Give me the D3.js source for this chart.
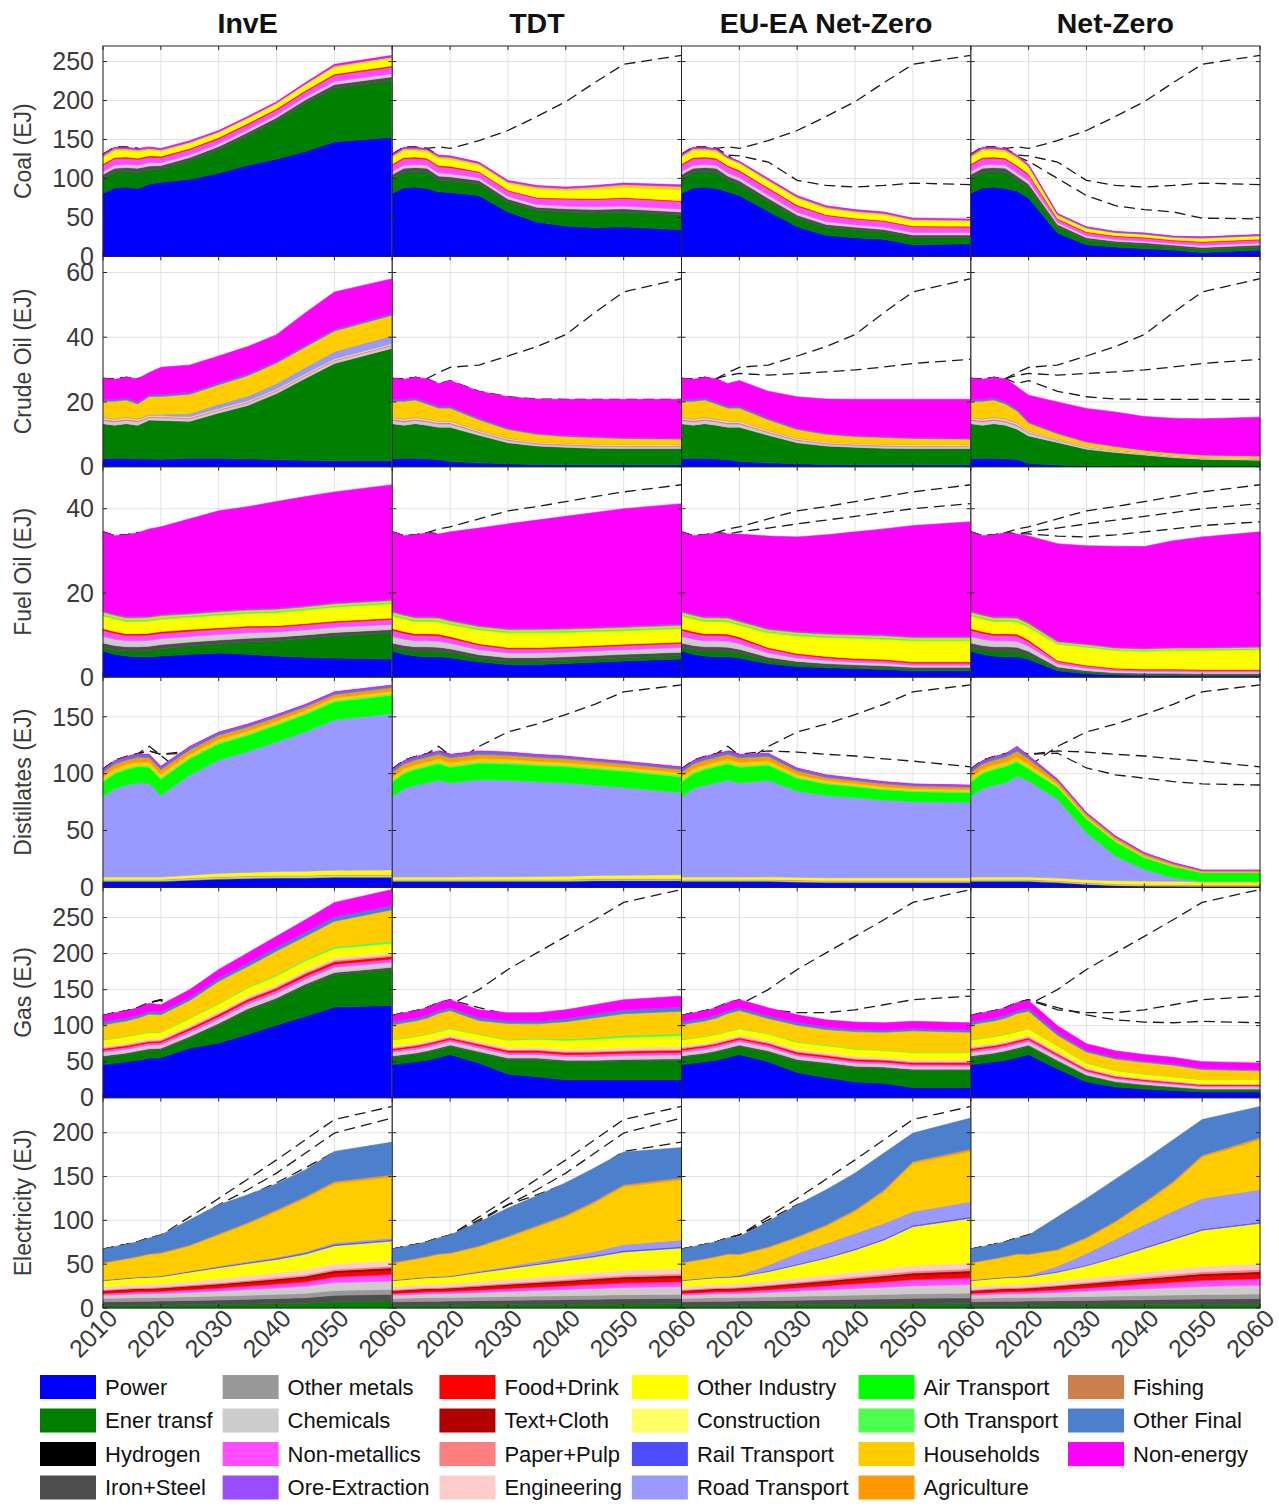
<!DOCTYPE html>
<html>
<head>
<meta charset="utf-8">
<script src="https://cdn.jsdelivr.net/npm/d3@7"></script>
<style>
  body { margin: 0; background: #fff; }
  svg { font-family: "Liberation Sans", Arial, Helvetica, sans-serif; }
</style>
</head>
<body>
<svg id="chart" width="1279" height="1506"></svg>
<script>
// ---- data ----
const years = [2010, 2012, 2014, 2016, 2018, 2020, 2025, 2030, 2035, 2040, 2045, 2050, 2060];
const scenarios = ['InvE', 'TDT', 'EU-EA Net-Zero', 'Net-Zero'];
const xTicks = [2010, 2020, 2030, 2040, 2050, 2060];

const sectors = ['Power', 'Ener transf', 'Hydrogen', 'Iron+Steel', 'Other metals', 'Chemicals',
  'Non-metallics', 'Ore-Extraction', 'Food+Drink', 'Text+Cloth', 'Paper+Pulp', 'Engineering',
  'Other Industry', 'Construction', 'Rail Transport', 'Road Transport', 'Air Transport',
  'Oth Transport', 'Households', 'Agriculture', 'Fishing', 'Other Final', 'Non-energy'];
const sectorColors = ['#0000ff', '#008000', '#000000', '#4d4d4d', '#999999', '#cccccc',
  '#ff4dff', '#994dff', '#ff0000', '#b30000', '#ff8080', '#ffcccc',
  '#ffff00', '#ffff66', '#4d4dff', '#9999ff', '#00ff00',
  '#4dff4d', '#ffcc00', '#ff9900', '#cc804d', '#4d80cc', '#ff00ff'];

// Coal: history 2010-2016 shared, then 2018..2060 per scenario
const coalSectors = ['Power', 'Ener transf', 'Iron+Steel', 'Chemicals', 'Non-metallics', 'Food+Drink', 'Other Industry', 'Households', 'Other Final', 'Non-energy'];
const coalTicks = [0, 50, 100, 150, 200, 250];
const coalHist = [[81, 88, 89, 87], [19, 20, 20, 21], [5, 5, 5, 5], [4, 4, 4, 4], [8, 8.5, 8, 7.5],
  [1.5, 1.5, 1.5, 1.5], [8, 8.5, 8, 8], [2.5, 2.5, 2.5, 2.5], [1, 1, 1, 1], [1, 1, 1, 1]];
const coalInvE = [
  [93, 95, 99, 107, 117, 125, 135, 147, 153],
  [18, 17, 24, 30, 38, 49, 62, 69, 73],
  [5, 4.5, 4, 4, 4, 4, 4, 4.5, 4.5],
  [4, 3.5, 3.5, 3.5, 3.5, 3.5, 3.5, 4, 4],
  [7.5, 7, 6.5, 6.5, 6.5, 6.5, 7, 8, 8.5],
  [1.5, 1.5, 1.5, 1.5, 1.5, 1.5, 1.5, 1.5, 1.5],
  [7.5, 6.5, 6.5, 6, 6, 6, 7, 8.5, 9.5],
  [2, 1.5, 1.5, 1.5, 1.5, 1.5, 1.5, 2, 2],
  [1, 1, 1, 0.5, 0.5, 0.5, 0.5, 0.5, 0.5],
  [1, 1, 1, 1, 1, 1, 1, 1.5, 1.5]];
const coalTDT = [
  [83, 82, 78, 57, 44, 39, 37, 38, 34],
  [15, 15, 15, 12.5, 15, 18, 19, 19, 19],
  [5, 5, 4.5, 4, 4, 4, 4, 4, 4],
  [4, 4, 3.5, 3.5, 3.5, 3.5, 3.5, 3.5, 3.5],
  [8, 8, 7, 7, 8, 9, 9.5, 10, 10],
  [1.5, 1.5, 1, 1, 1, 1, 1, 1, 1],
  [9, 9, 8, 8.5, 11, 10, 12, 13, 14],
  [2.5, 2.5, 2, 2, 2.5, 2.5, 3, 3.5, 4],
  [1, 1, 1, 1, 1, 1, 1, 1, 1],
  [1, 1, 1, 1, 1, 1, 1, 1, 1.5]];
const coalEU = [
  [83, 78, 58, 38, 27, 24, 22, 15, 16],
  [15, 14, 12, 11, 10, 10, 9, 9, 8],
  [5, 5, 4.5, 4, 4, 3.5, 3.5, 3.5, 3.5],
  [4, 4, 4, 3.5, 3.5, 3, 3, 3, 3],
  [8, 8, 8, 8, 8, 7.5, 7.5, 7.5, 7],
  [1.5, 1.5, 1.5, 1.5, 1, 1, 1, 1, 1],
  [8, 8, 8, 8, 7.5, 7, 7, 6.5, 6.5],
  [2, 2, 2, 2, 2, 2, 2, 2, 1.5],
  [1, 1, 1, 1, 1, 1, 1, 0.5, 0.5],
  [0.5, 0.5, 1, 1, 1, 1, 1, 1, 1]];
const coalNZ = [
  [84, 75, 30, 15, 12, 10, 8, 5, 8],
  [14, 13, 8, 6, 5, 5, 4, 4, 4],
  [5, 5, 3, 3, 2.5, 2.5, 2.5, 2.5, 2.5],
  [4, 4, 2.5, 2.5, 2, 2, 2, 2.5, 2.5],
  [8, 7.5, 4, 4, 4, 4, 3.5, 4, 4],
  [1.5, 1.5, 1, 1, 1, 1, 1, 1, 1],
  [9, 8, 4, 4, 3.5, 3.5, 3, 4, 4],
  [2.5, 2, 1, 1, 0.5, 0.5, 0.5, 0.5, 0.5],
  [1, 1, 1, 1, 1, 1, 1, 1, 1],
  [1, 1, 0.5, 0.5, 0.5, 0.5, 0.5, 0.5, 0.5]];

// Crude oil
const crudeSectors = ['Power', 'Ener transf', 'Chemicals', 'Non-metallics', 'Other Industry', 'Road Transport', 'Households', 'Other Final', 'Non-energy'];
const crudeTicks = [0, 20, 40, 60];
const crudeHist = [[2.4, 2.6, 2.6, 2.4], [10.9, 10.2, 10.7, 10.4], [1, 1, 1, 1], [0.4, 0.4, 0.4, 0.4],
  [0.4, 0.4, 0.4, 0.4], [0.3, 0.3, 0.3, 0.3], [4.8, 5.3, 5.2, 4.5], [0.6, 0.6, 0.6, 0.6], [6.5, 6.2, 6.4, 7.2]];
const crudeInvE = [
  [2.4, 2.3, 2.6, 2.6, 2.4, 2.2, 2, 1.8, 1.8],
  [12, 12, 11.4, 14, 16.5, 20.4, 25.3, 30.1, 34.8],
  [0.8, 0.8, 0.8, 0.8, 0.8, 0.8, 0.8, 0.8, 0.8],
  [0.3, 0.3, 0.3, 0.3, 0.3, 0.3, 0.3, 0.3, 0.3],
  [0.3, 0.3, 0.3, 0.3, 0.3, 0.3, 0.3, 0.3, 0.3],
  [0.4, 0.5, 1, 1.3, 1.5, 1.7, 2, 2.3, 2.5],
  [5.5, 5.5, 6, 6, 6.3, 6.3, 6.3, 6.3, 6.3],
  [0.6, 0.6, 0.6, 0.6, 0.6, 0.6, 0.6, 0.6, 0.6],
  [6.8, 8.4, 8.4, 8.3, 8.4, 8.2, 10, 11.5, 10.7]];
const crudeTDT = [
  [2.2, 1.6, 1.2, 0.9, 0.7, 0.6, 0.6, 0.6, 0.6],
  [10, 10.6, 8.5, 6.5, 5.7, 5.4, 5.1, 5, 5],
  [1, 1, 0.8, 0.7, 0.6, 0.6, 0.6, 0.6, 0.6],
  [0.4, 0.4, 0.3, 0.3, 0.3, 0.3, 0.3, 0.3, 0.3],
  [0.4, 0.4, 0.3, 0.3, 0.3, 0.3, 0.3, 0.3, 0.3],
  [0.3, 0.3, 0.2, 0.2, 0.1, 0.1, 0.1, 0.1, 0.1],
  [3.8, 3.8, 3.2, 2.6, 2.3, 2, 2, 1.8, 1.6],
  [0.6, 0.6, 0.5, 0.4, 0.3, 0.3, 0.3, 0.3, 0.3],
  [7, 7.9, 8.3, 9.7, 10.6, 11.2, 11.5, 11.8, 12]];
const crudeEU = [
  [2.2, 1.6, 1.2, 0.9, 0.7, 0.6, 0.6, 0.6, 0.6],
  [10, 10.6, 8.5, 6.5, 5.7, 5.4, 5.1, 5, 5],
  [1, 1, 0.8, 0.7, 0.6, 0.6, 0.6, 0.6, 0.6],
  [0.4, 0.4, 0.3, 0.3, 0.3, 0.3, 0.3, 0.3, 0.3],
  [0.4, 0.4, 0.3, 0.3, 0.3, 0.3, 0.3, 0.3, 0.3],
  [0.3, 0.3, 0.2, 0.2, 0.1, 0.1, 0.1, 0.1, 0.1],
  [3.8, 3.8, 3.2, 2.6, 2.3, 2, 2, 1.8, 1.6],
  [0.6, 0.6, 0.5, 0.4, 0.3, 0.3, 0.3, 0.3, 0.3],
  [7, 7.9, 8.3, 9.7, 10.6, 11.2, 11.5, 11.8, 12]];
const crudeNZ = [
  [2.3, 1, 0.5, 0.3, 0.2, 0.2, 0.2, 0.2, 0.2],
  [9.3, 8.5, 7, 5.1, 4.2, 3.4, 2.6, 2.1, 1.8],
  [1, 0.9, 0.6, 0.5, 0.4, 0.3, 0.3, 0.3, 0.3],
  [0.4, 0.3, 0.2, 0.2, 0.1, 0.1, 0.1, 0.1, 0.1],
  [0.4, 0.3, 0.2, 0.2, 0.2, 0.2, 0.2, 0.2, 0.2],
  [0.3, 0.2, 0.1, 0.1, 0.1, 0.1, 0.1, 0.1, 0.1],
  [3.5, 2.3, 1.6, 1.2, 1, 0.8, 0.7, 0.6, 0.6],
  [0.6, 0.4, 0.3, 0.2, 0.2, 0.1, 0.1, 0.1, 0.1],
  [6.9, 8.2, 9.5, 10.2, 10.5, 10.3, 10.7, 11.1, 11.9]];
// TDT crude total as drawn in the other panels (differs from its stack)
const crudeTDTLine = [27.3, 27, 27.6, 27.2, 28.2, 28.8, 28.3, 28.8, 29.3, 29.9, 30.8, 31.9, 33.2];

// Fuel oil
const fuelSectors = ['Power', 'Ener transf', 'Iron+Steel', 'Chemicals', 'Non-metallics', 'Food+Drink', 'Other Industry', 'Oth Transport', 'Households', 'Other Final', 'Non-energy'];
const fuelTicks = [0, 20, 40];
const fuelHist = [[6.2, 5.4, 5, 4.8], [0.9, 1.1, 1.2, 1.4], [1, 1, 1, 1], [1.5, 1.5, 1.4, 1.4], [1.5, 1.4, 1.3, 1.3],
  [0.4, 0.4, 0.4, 0.4], [3, 3, 2.9, 2.9], [0.4, 0.4, 0.4, 0.4], [0.5, 0.5, 0.5, 0.5], [0.3, 0.3, 0.3, 0.3],
  [18.8, 18.6, 19.4, 19.9]];
const fuelInvE = [
  [4.8, 5, 5.4, 5.7, 5.4, 5, 4.7, 4.5, 4.3],
  [1.5, 1.7, 2, 2.2, 2.9, 3.6, 4.5, 5.3, 6.2],
  [1, 1, 0.9, 0.9, 0.9, 0.9, 0.8, 0.8, 0.8],
  [1.4, 1.4, 1.3, 1.3, 1.3, 1.2, 1.2, 1.2, 1.2],
  [1.3, 1.3, 1.3, 1.3, 1.3, 1.2, 1.2, 1.2, 1.2],
  [0.4, 0.4, 0.4, 0.3, 0.3, 0.3, 0.3, 0.3, 0.3],
  [2.9, 2.9, 2.9, 3, 3, 3.1, 3.2, 3.3, 3.4],
  [0.4, 0.4, 0.4, 0.4, 0.4, 0.4, 0.4, 0.4, 0.4],
  [0.5, 0.5, 0.4, 0.4, 0.4, 0.4, 0.4, 0.4, 0.4],
  [0.3, 0.3, 0.3, 0.3, 0.3, 0.3, 0.3, 0.3, 0.3],
  [20.7, 20.8, 22.3, 23.7, 24.3, 25.3, 25.9, 26.3, 27.2]];
const fuelTDT = [
  [4.8, 4.6, 3.6, 3, 3, 3.2, 3.5, 3.8, 4.3],
  [1.3, 1.2, 0.9, 0.8, 0.8, 0.8, 0.8, 0.8, 0.8],
  [1, 0.9, 0.8, 0.8, 0.8, 0.8, 0.8, 0.8, 0.8],
  [1.4, 1.3, 1.2, 1.1, 1.1, 1.1, 1.1, 1.1, 1.1],
  [1.3, 1.2, 1.1, 1, 1, 1, 1, 1, 1],
  [0.4, 0.4, 0.3, 0.3, 0.3, 0.3, 0.3, 0.3, 0.3],
  [2.9, 2.8, 3.3, 3.5, 3.5, 3.4, 3.3, 3.2, 3.2],
  [0.4, 0.4, 0.4, 0.4, 0.4, 0.4, 0.4, 0.4, 0.4],
  [0.5, 0.5, 0.4, 0.4, 0.4, 0.4, 0.4, 0.4, 0.4],
  [0.3, 0.3, 0.3, 0.3, 0.3, 0.3, 0.3, 0.3, 0.3],
  [19.7, 20.9, 23.1, 24.8, 25.7, 26.5, 27.2, 27.9, 28.6]];
const fuelEU = [
  [4.8, 4.5, 3.2, 2.5, 2.2, 2, 1.8, 1.5, 1.5],
  [1.3, 1.2, 0.8, 0.6, 0.5, 0.4, 0.4, 0.4, 0.4],
  [1, 0.9, 0.7, 0.6, 0.5, 0.5, 0.5, 0.4, 0.4],
  [1.4, 1.3, 1, 0.8, 0.7, 0.6, 0.6, 0.5, 0.5],
  [1.3, 1.2, 1, 0.8, 0.7, 0.6, 0.6, 0.5, 0.5],
  [0.4, 0.4, 0.3, 0.3, 0.3, 0.3, 0.3, 0.3, 0.3],
  [2.9, 2.8, 3.5, 4.2, 4.5, 4.8, 4.8, 5, 5],
  [0.4, 0.4, 0.4, 0.4, 0.4, 0.4, 0.4, 0.4, 0.4],
  [0.5, 0.5, 0.4, 0.4, 0.4, 0.4, 0.4, 0.4, 0.4],
  [0.3, 0.3, 0.3, 0.3, 0.3, 0.3, 0.3, 0.3, 0.3],
  [19.7, 20.5, 21.9, 22.4, 23.3, 24.2, 25.1, 26.3, 27.2]];
const fuelNZ = [
  [4.8, 4.2, 1.5, 0.8, 0.5, 0.4, 0.4, 0.3, 0.3],
  [1.3, 1, 0.4, 0.3, 0.2, 0.2, 0.2, 0.2, 0.2],
  [1, 0.9, 0.5, 0.4, 0.3, 0.3, 0.3, 0.3, 0.3],
  [1.4, 1.2, 0.7, 0.6, 0.5, 0.4, 0.4, 0.4, 0.4],
  [1.3, 1.1, 0.6, 0.5, 0.4, 0.4, 0.4, 0.4, 0.4],
  [0.4, 0.4, 0.2, 0.2, 0.2, 0.2, 0.2, 0.2, 0.2],
  [2.9, 3, 3.9, 4.3, 4.2, 4.2, 4.4, 4.5, 4.7],
  [0.4, 0.4, 0.3, 0.3, 0.3, 0.3, 0.3, 0.3, 0.3],
  [0.5, 0.5, 0.3, 0.3, 0.3, 0.3, 0.3, 0.3, 0.3],
  [0.3, 0.3, 0.2, 0.2, 0.2, 0.2, 0.2, 0.2, 0.2],
  [19.7, 20.5, 23.1, 23.3, 24, 24.1, 25.3, 26.2, 27.2]];

// Distillates
const distSectors = ['Power', 'Ener transf', 'Chemicals', 'Non-metallics', 'Other Industry', 'Road Transport', 'Air Transport', 'Oth Transport', 'Households', 'Agriculture', 'Other Final', 'Non-energy'];
const distTicks = [0, 50, 100, 150];
const distHist = [[5, 5, 5, 5], [0.5, 0.5, 0.5, 0.5], [1, 1, 1, 1], [0.5, 0.5, 0.5, 0.5], [2, 2, 2, 2],
  [71, 78, 81, 83], [12.5, 13, 13.5, 14], [1.5, 1.5, 1.5, 1.5], [3, 3, 3, 3], [4, 4, 4, 4],
  [2.5, 2.5, 2.5, 2.5], [0.5, 0.5, 0.5, 0.5]];
const distInvE = [
  [5, 5, 6, 7, 7.5, 8, 8, 8.5, 8.5],
  [0.5, 0.5, 0.5, 0.5, 0.5, 0.5, 0.5, 0.5, 0.5],
  [1, 1, 1.2, 1.3, 1.4, 1.5, 1.5, 1.6, 1.6],
  [0.5, 0.5, 0.5, 0.5, 0.5, 0.5, 0.5, 0.5, 0.5],
  [2, 2, 2.5, 3, 3.2, 3.5, 3.7, 4, 4.2],
  [82.5, 72.1, 88.3, 99.8, 106.5, 114, 122.8, 132.4, 137.7],
  [14, 14, 14, 14, 14, 14.5, 15, 15.5, 16],
  [1.5, 1.5, 1.5, 1.5, 1.5, 1.5, 1.5, 1.5, 1.5],
  [3, 3, 2.8, 2.6, 2.5, 2.4, 2.3, 2.2, 2.2],
  [4, 4, 3.8, 3.6, 3.4, 3.2, 3, 3, 3],
  [2.5, 2.5, 2.4, 2.3, 2.1, 1.9, 1.7, 1.8, 1.8],
  [0.5, 0.5, 0.5, 0.5, 0.5, 0.5, 0.5, 0.5, 0.5]];
const distTDT = [
  [5, 5, 5, 5, 5, 5, 5.5, 5.5, 5.5],
  [0.5, 0.5, 0.5, 0.5, 0.5, 0.5, 0.5, 0.5, 0.5],
  [1, 1, 1, 1, 1, 1, 1, 1, 1],
  [0.5, 0.5, 0.5, 0.5, 0.5, 0.5, 0.5, 0.5, 0.5],
  [2, 2, 2.2, 2.4, 2.6, 2.8, 3, 3.2, 3.5],
  [85.5, 83, 85.8, 85.1, 83.4, 82.2, 79.5, 77.3, 72.5],
  [14, 13.5, 14, 14, 14, 14, 14, 14, 13.5],
  [1.5, 1.5, 1.5, 1.5, 1.5, 1.5, 1.5, 1.5, 1.5],
  [3, 3, 2.8, 2.6, 2.5, 2.4, 2.3, 2.2, 2.2],
  [4, 4, 3.8, 3.6, 3.4, 3.2, 3, 3, 3],
  [2.5, 2.5, 2.4, 2.3, 2.1, 1.9, 1.7, 1.8, 1.8],
  [0.5, 0.5, 0.5, 0.5, 0.5, 0.5, 0.5, 0.5, 0.5]];
const distEU = [
  [5, 5, 5, 4.5, 4, 4, 4, 4, 4],
  [0.5, 0.5, 0.5, 0.5, 0.5, 0.5, 0.5, 0.5, 0.5],
  [1, 1, 1, 1, 1, 1, 1, 1, 1],
  [0.5, 0.5, 0.5, 0.5, 0.5, 0.5, 0.5, 0.5, 0.5],
  [2, 2, 2.2, 2.3, 2.4, 2.5, 2.5, 2.5, 2.5],
  [85.5, 83, 85.2, 76, 72.5, 70.5, 68.3, 67.1, 66.3],
  [14, 13.5, 13, 11, 10, 9.5, 9, 8.5, 8.5],
  [1.5, 1.5, 1.4, 1.2, 1, 1, 1, 1, 1],
  [3, 3, 2.7, 2.3, 2, 1.8, 1.7, 1.6, 1.5],
  [4, 4, 3.7, 3.2, 2.8, 2.6, 2.5, 2.4, 2.3],
  [2.5, 2.5, 2.3, 2, 1.8, 1.6, 1.5, 1.4, 1.4],
  [0.5, 0.5, 0.5, 0.5, 0.5, 0.5, 0.5, 0.5, 0.5]];
const distNZ = [
  [5, 5, 4, 2.5, 1.5, 1, 0.8, 0.6, 0.6],
  [0.5, 0.5, 0.4, 0.3, 0.2, 0.2, 0.2, 0.2, 0.2],
  [1, 1, 1, 0.9, 0.8, 0.8, 0.8, 0.8, 0.8],
  [0.5, 0.5, 0.5, 0.5, 0.5, 0.5, 0.5, 0.5, 0.5],
  [2, 2, 2.2, 2.5, 2.8, 3, 3, 3, 3],
  [89, 84.8, 69.5, 41.5, 21.8, 10.4, 3.2, 0.3, 0.3],
  [12, 10.2, 10.4, 11.8, 12.4, 10.1, 9.7, 7.5, 7.5],
  [1.5, 1.5, 1, 0.8, 0.7, 0.6, 0.5, 0.3, 0.3],
  [3.5, 3, 1.8, 1.4, 1.3, 1.1, 0.8, 0.5, 0.5],
  [5, 4.5, 2.5, 2.1, 1.9, 1.7, 1.3, 0.8, 0.8],
  [3.5, 2.5, 1.5, 1.2, 1, 0.8, 0.6, 0.4, 0.4],
  [0.5, 0.5, 0.5, 0.4, 0.4, 0.4, 0.4, 0.4, 0.4]];

// Gas
const gasSectors = ['Power', 'Ener transf', 'Iron+Steel', 'Chemicals', 'Non-metallics', 'Food+Drink', 'Paper+Pulp', 'Engineering', 'Other Industry', 'Oth Transport', 'Households', 'Other Final', 'Non-energy'];
const gasTicks = [0, 50, 100, 150, 200, 250];
const gasHist = [[46, 48, 50, 52], [10, 10, 10, 11], [2, 2, 2, 2], [5, 5, 5, 5], [3, 3, 3, 3], [2, 2, 2, 2],
  [1.5, 1.5, 1.5, 1.5], [2.5, 2.5, 2.5, 2.5], [8, 8, 8.5, 8.5], [1, 1, 1, 1], [20, 21, 21, 22],
  [4, 4, 4, 4], [9, 10, 10, 10.5]];
const gasInvE = [
  [55, 55.6, 69, 76, 88, 101, 113, 126, 128],
  [11, 11, 14, 25, 33, 35, 42, 45, 50],
  [2, 2, 2, 2.2, 2.4, 2.5, 2.7, 2.9, 3],
  [5, 5, 5.5, 5.8, 6.2, 6.5, 6.8, 7, 7],
  [3, 3, 3.5, 3.7, 3.9, 4, 4.2, 4.4, 4.5],
  [2, 2, 2.5, 2.7, 2.8, 3, 3.2, 3.4, 3.5],
  [1.5, 1.5, 1.5, 1.6, 1.8, 2, 2, 2, 2],
  [2.5, 2.5, 3, 3, 3, 3, 3.2, 3.4, 3.5],
  [8.5, 8, 9, 10, 11, 12, 13, 13, 13],
  [1, 1, 1, 1.2, 1.5, 1.8, 2, 2.5, 2.5],
  [24.5, 23.4, 24, 30.3, 28.4, 32.7, 31.9, 35.4, 44],
  [4, 4, 4, 4.5, 5, 5.5, 6, 6, 6],
  [11, 10, 11, 12, 14, 15, 17, 20, 22]];
const gasTDT = [
  [56, 60, 48, 33, 29, 25, 25, 25, 25],
  [11, 11, 14, 20, 24, 25, 25, 26, 27],
  [2, 2, 2, 2, 2, 2, 2, 2, 2],
  [5, 5, 5, 5, 5, 5, 5.2, 5.4, 5.5],
  [3, 3, 3, 3, 3, 3, 3.2, 3.3, 3.4],
  [2, 2, 2.2, 2.4, 2.5, 2.6, 2.7, 2.8, 2.9],
  [1.5, 1.5, 1.5, 1.5, 1.5, 1.5, 1.5, 1.5, 1.5],
  [2.5, 2.5, 2.6, 2.8, 3, 3.2, 3.4, 3.6, 3.8],
  [8.5, 8.5, 9, 10, 11, 12, 13, 14, 15],
  [1, 1, 1, 1, 1.5, 2, 2.5, 3, 3],
  [24.5, 24.5, 18.7, 22.3, 20, 24.2, 27.5, 29.9, 30.9],
  [4, 4, 4, 4, 4, 4.5, 5, 5.5, 6],
  [11, 11, 11, 11, 11.5, 12, 13, 14, 15]];
const gasEU = [
  [56, 60, 50, 35, 28, 22, 20, 14, 14],
  [11, 11, 13, 16, 19, 20, 21, 24, 24],
  [2, 2, 2, 2, 1.8, 1.7, 1.6, 1.5, 1.5],
  [5, 5, 5, 4.8, 4.6, 4.5, 4.4, 4.3, 4.2],
  [3, 3, 3, 2.9, 2.8, 2.7, 2.6, 2.5, 2.5],
  [2, 2, 2.2, 2.3, 2.3, 2.3, 2.3, 2.3, 2.3],
  [1.5, 1.5, 1.5, 1.5, 1.4, 1.4, 1.4, 1.4, 1.4],
  [2.5, 2.5, 2.6, 2.7, 2.8, 2.8, 2.8, 2.8, 2.8],
  [8.5, 8.5, 9, 9.5, 9.5, 9.5, 9.5, 9.5, 9.5],
  [1, 1, 1, 1, 1, 1, 1, 1, 1],
  [24.5, 24.5, 20.7, 23, 21.3, 23.8, 24.2, 29.5, 27.6],
  [4, 4, 4, 3.8, 3.5, 3.3, 3.2, 3.2, 3.2],
  [11, 11, 11, 10.5, 10, 10, 10, 10, 10]];
const gasNZ = [
  [56, 60, 40, 22, 15, 12, 10, 8, 8],
  [11, 11, 10, 8, 6, 5, 4, 3, 3],
  [2, 2, 1.8, 1.5, 1.3, 1.2, 1.1, 1, 1],
  [5, 5, 4.5, 4, 3.7, 3.5, 3.3, 3.1, 3],
  [3, 3, 2.6, 2.2, 2, 1.9, 1.8, 1.7, 1.7],
  [2, 2, 1.8, 1.5, 1.4, 1.3, 1.2, 1.1, 1.1],
  [1.5, 1.5, 1.3, 1.1, 1, 1, 0.9, 0.9, 0.9],
  [2.5, 2.5, 2.2, 1.8, 1.6, 1.5, 1.4, 1.3, 1.3],
  [8.5, 8.5, 7.5, 6, 5.5, 5.2, 5, 4.8, 4.8],
  [1, 1, 0.8, 0.6, 0.5, 0.5, 0.5, 0.5, 0.5],
  [24.5, 23.5, 14, 14.8, 15.8, 15.9, 15.9, 13.8, 11.9],
  [4, 4, 3.5, 2.5, 2.2, 2, 1.9, 1.8, 1.8],
  [11, 11, 10, 9, 9, 9, 9, 9, 9]];

// Electricity
const elecSectors = ['Ener transf', 'Iron+Steel', 'Other metals', 'Chemicals', 'Non-metallics', 'Food+Drink', 'Text+Cloth', 'Paper+Pulp', 'Engineering', 'Other Industry', 'Rail Transport', 'Road Transport', 'Households', 'Agriculture', 'Other Final'];
const elecTicks = [0, 50, 100, 150, 200];
const elecHist = [[2.7, 2.8, 2.9, 3], [4.4, 4.5, 4.6, 4.7], [3.8, 3.9, 4, 4.1], [3.8, 4, 4.2, 4.4],
  [1.9, 2, 2.1, 2.2], [1.8, 1.9, 2, 2.1], [1.5, 1.5, 1.6, 1.6], [1.2, 1.2, 1.2, 1.2], [3.3, 3.5, 3.6, 3.7],
  [6.7, 7, 7.3, 7.5], [0.8, 0.8, 0.8, 0.8], [0.2, 0.2, 0.3, 0.3], [18.9, 20, 21, 22.5], [1, 1, 1, 1],
  [15.2, 15.7, 16, 16.5]];
const elecInvE = [
  [3, 3.2, 3.6, 4, 4.5, 5, 5.5, 7.5, 8],
  [4.8, 4.8, 5, 5.2, 5.5, 5.8, 6.2, 7, 7.6],
  [4.1, 4.1, 4.2, 4.4, 4.6, 4.8, 5, 5.5, 5.7],
  [4.5, 4.6, 5.2, 5.8, 6.5, 7.2, 8, 9, 9.5],
  [2.2, 2.3, 2.8, 3.3, 3.9, 4.5, 5.2, 6.5, 7.6],
  [2.1, 2.2, 2.5, 2.8, 3.1, 3.4, 3.8, 4.2, 4.5],
  [1.6, 1.6, 1.8, 2, 2.2, 2.4, 2.6, 2.8, 3],
  [1.2, 1.2, 1.3, 1.4, 1.5, 1.6, 1.7, 1.8, 1.9],
  [3.8, 3.9, 4.2, 4.6, 5, 5.5, 6, 6.3, 6.5],
  [7.7, 7.8, 10.3, 12.5, 14, 15.2, 17.5, 20.5, 22.2],
  [0.9, 0.9, 1, 1.1, 1.2, 1.3, 1.4, 1.5, 1.5],
  [0.3, 0.3, 0.5, 0.7, 1, 1.2, 1.5, 1.8, 2],
  [24.8, 25.3, 28.4, 35.4, 42.9, 52.3, 60.8, 67.8, 69.6],
  [1, 1, 1.2, 1.4, 1.6, 1.8, 2, 2.2, 2.4],
  [18, 20.2, 28.6, 33.3, 31.6, 29.7, 30.5, 34.3, 37.3]];
const elecTDT = [
  [3, 3.2, 3.4, 3.6, 3.8, 4, 4.2, 4.5, 4.8],
  [4.8, 4.8, 5, 5.2, 5.4, 5.6, 5.8, 6, 6.2],
  [4.1, 4.1, 4.2, 4.3, 4.4, 4.5, 4.6, 4.7, 4.8],
  [4.5, 4.6, 5.2, 5.8, 6.4, 7, 7.6, 8.2, 8.6],
  [2.2, 2.3, 2.8, 3.3, 3.8, 4.3, 4.8, 5.3, 5.6],
  [2.1, 2.2, 2.5, 2.8, 3.1, 3.4, 3.7, 4, 4.2],
  [1.6, 1.6, 1.8, 2, 2.2, 2.4, 2.6, 2.8, 3],
  [1.2, 1.2, 1.3, 1.4, 1.5, 1.6, 1.7, 1.8, 1.9],
  [3.8, 3.9, 4.2, 4.5, 4.8, 5.1, 5.4, 5.7, 6],
  [7.7, 7.8, 10, 12, 14, 16, 18, 21, 23.5],
  [0.9, 0.9, 1, 1.1, 1.2, 1.3, 1.4, 1.5, 1.5],
  [0.3, 0.3, 0.8, 1.5, 2.5, 3.5, 5, 7, 7.6],
  [24.8, 25.1, 27.6, 33.1, 39.3, 45.5, 55.2, 65.9, 68.5],
  [1, 1, 1.2, 1.4, 1.6, 1.8, 2, 2.2, 2.4],
  [18, 20.4, 27, 32, 34, 37, 38, 37.4, 34.4]];
const elecEU = [
  [3, 3.2, 3.4, 3.6, 3.8, 4, 4.2, 4.5, 4.8],
  [4.8, 4.8, 5, 5.3, 5.6, 5.9, 6.2, 6.5, 6.8],
  [4.1, 4.1, 4.2, 4.4, 4.6, 4.8, 5, 5.2, 5.4],
  [4.5, 4.6, 5.3, 6, 6.8, 7.6, 8.4, 9.2, 9.8],
  [2.2, 2.3, 3, 3.8, 4.6, 5.4, 6.2, 7, 7.6],
  [2.1, 2.2, 2.6, 3, 3.4, 3.8, 4.2, 4.6, 5],
  [1.6, 1.6, 1.8, 2, 2.2, 2.4, 2.6, 2.8, 3],
  [1.2, 1.2, 1.3, 1.5, 1.7, 1.9, 2.1, 2.3, 2.5],
  [3.8, 3.9, 4.3, 4.7, 5.1, 5.5, 5.9, 6.3, 6.6],
  [7.7, 7.9, 10.6, 14.8, 19, 25, 32.9, 44.5, 51],
  [0.9, 0.9, 1, 1.1, 1.2, 1.3, 1.4, 1.5, 1.5],
  [0.3, 1, 6.6, 12.3, 15.9, 17.7, 17.7, 15.7, 17.5],
  [24.8, 23, 19.7, 17.6, 19.4, 24.9, 36.1, 55, 57.4],
  [1, 1, 1.2, 1.4, 1.6, 1.8, 2, 2.2, 2.4],
  [18, 19.8, 28.7, 36.2, 40, 41.9, 41.9, 32.3, 35.5]];
const elecNZ = [
  [3, 3.2, 3.3, 3.4, 3.5, 3.6, 3.7, 3.8, 3.9],
  [4.8, 4.8, 5, 5.3, 5.6, 5.9, 6.2, 6.5, 6.8],
  [4.1, 4.1, 4.2, 4.4, 4.6, 4.8, 5, 5.2, 5.4],
  [4.5, 4.6, 5.3, 6, 6.8, 7.6, 8.4, 9.2, 9.8],
  [2.2, 2.3, 3, 3.8, 4.6, 5.4, 6.2, 7, 7.6],
  [2.1, 2.2, 2.6, 3, 3.4, 3.8, 4.2, 4.6, 5],
  [1.6, 1.6, 1.8, 2, 2.2, 2.4, 2.6, 2.8, 3],
  [1.2, 1.2, 1.3, 1.5, 1.7, 1.9, 2.1, 2.3, 2.5],
  [3.8, 3.9, 4.3, 4.7, 5.1, 5.5, 5.9, 6.3, 6.6],
  [7.7, 7.9, 10, 14, 20, 27, 34, 41, 46],
  [0.9, 0.9, 1, 1.1, 1.2, 1.3, 1.4, 1.5, 1.5],
  [0.3, 1, 6, 13, 20, 26, 31, 35, 37],
  [24.8, 23, 18, 17, 19, 24, 32, 47, 57],
  [1, 1, 1.2, 1.4, 1.6, 1.8, 2, 2.2, 2.4],
  [18, 21.3, 37, 44.4, 47.7, 48, 47.3, 40.6, 35.5]];

// ---- layout ----
const svg = d3.select('#chart');
const width = +svg.attr('width');
const height = +svg.attr('height');
const margin = {top: 46, right: 19, bottom: 198, left: 103};
const panelW = (width - margin.left - margin.right) / 4;
const panelH = (height - margin.top - margin.bottom) / 6;

const color = d3.scaleOrdinal().domain(sectors).range(sectorColors);

const rows = [
  {label: 'Coal (EJ)', keys: coalSectors, hist: coalHist, runs: [coalInvE, coalTDT, coalEU, coalNZ], yMax: 270, ticks: coalTicks, lines: {}},
  {label: 'Crude Oil (EJ)', keys: crudeSectors, hist: crudeHist, runs: [crudeInvE, crudeTDT, crudeEU, crudeNZ], yMax: 65, ticks: crudeTicks, lines: {1: crudeTDTLine}},
  {label: 'Fuel Oil (EJ)', keys: fuelSectors, hist: fuelHist, runs: [fuelInvE, fuelTDT, fuelEU, fuelNZ], yMax: 50, ticks: fuelTicks, lines: {}},
  {label: 'Distillates (EJ)', keys: distSectors, hist: distHist, runs: [distInvE, distTDT, distEU, distNZ], yMax: 185, ticks: distTicks, lines: {}},
  {label: 'Gas (EJ)', keys: gasSectors, hist: gasHist, runs: [gasInvE, gasTDT, gasEU, gasNZ], yMax: 292, ticks: gasTicks, lines: {}},
  {label: 'Electricity (EJ)', keys: elecSectors, hist: elecHist, runs: [elecInvE, elecTDT, elecEU, elecNZ], yMax: 240, ticks: elecTicks, lines: {}}
];

function buildTable(keys, hist, run) {
  return years.map((yr, i) => {
    const row = {year: yr};
    keys.forEach((k, j) => {
      const h = hist[j].length;
      row[k] = i < h ? hist[j][i] : run[j][i - h];
    });
    return row;
  });
}

const x = d3.scaleLinear().domain([2010, 2060]).range([0, panelW]);

rows.forEach((R, r) => {
  const y = d3.scaleLinear().domain([0, R.yMax]).range([panelH, 0]);
  const tables = R.runs.map(run => buildTable(R.keys, R.hist, run));
  const totals = tables.map((t, s) => R.lines[s] || t.map(d => d3.sum(R.keys, k => d[k])));

  const area = d3.area()
    .x(d => x(d.data.year))
    .y0(d => y(d[0]))
    .y1(d => y(d[1]));
  const line = d3.line()
    .x((d, i) => x(years[i]))
    .y(d => y(d));

  scenarios.forEach((name, c) => {
    const g = svg.append('g')
      .attr('transform', `translate(${margin.left + c * panelW},${margin.top + r * panelH})`);

    // grid
    g.selectAll('line.vg').data(xTicks).enter().append('line')
      .attr('x1', d => x(d)).attr('x2', d => x(d))
      .attr('y1', 0).attr('y2', panelH)
      .attr('stroke', '#e2e2e2');
    g.selectAll('line.hg').data(R.ticks).enter().append('line')
      .attr('x1', 0).attr('x2', panelW)
      .attr('y1', d => y(d)).attr('y2', d => y(d))
      .attr('stroke', '#e2e2e2');

    // totals of the other scenarios, dashed, under the areas
    totals.forEach((tot, s) => {
      if (s === c) return;
      g.append('path')
        .attr('d', line(tot))
        .attr('fill', 'none')
        .attr('stroke', '#1a1a1a')
        .attr('stroke-width', 1.3)
        .attr('stroke-dasharray', '11,6');
    });

    const series = d3.stack().keys(R.keys)(tables[c]);
    g.selectAll('path.layer').data(series).enter().append('path')
      .attr('class', 'layer')
      .attr('d', area)
      .attr('fill', d => color(d.key))
      .attr('stroke', d => color(d.key))
      .attr('stroke-width', 0.6);

    // box + inward ticks
    g.append('rect')
      .attr('width', panelW).attr('height', panelH)
      .attr('fill', 'none').attr('stroke', '#262626').attr('stroke-width', 1);
    R.ticks.forEach(t => {
      g.append('line').attr('x1', 0).attr('x2', 4).attr('y1', y(t)).attr('y2', y(t)).attr('stroke', '#262626');
      g.append('line').attr('x1', panelW - 4).attr('x2', panelW).attr('y1', y(t)).attr('y2', y(t)).attr('stroke', '#262626');
    });
    xTicks.forEach(t => {
      g.append('line').attr('x1', x(t)).attr('x2', x(t)).attr('y1', panelH - 4).attr('y2', panelH).attr('stroke', '#262626');
      g.append('line').attr('x1', x(t)).attr('x2', x(t)).attr('y1', 0).attr('y2', 4).attr('stroke', '#262626');
    });

    if (c === 0) {
      g.selectAll('text.yt').data(R.ticks).enter().append('text')
        .attr('x', -9).attr('y', d => y(d)).attr('dy', '0.35em')
        .attr('text-anchor', 'end')
        .attr('font-size', 25).attr('fill', '#3a3a3a')
        .text(d => d);
      g.append('text')
        .attr('transform', `translate(-72,${panelH / 2}) rotate(-90)`)
        .attr('text-anchor', 'middle')
        .attr('font-size', 23).attr('fill', '#3a3a3a')
        .text(R.label);
    }
    if (r === 0) {
      g.append('text')
        .attr('x', panelW / 2).attr('y', -13)
        .attr('text-anchor', 'middle')
        .attr('font-size', 28.5).attr('font-weight', 'bold').attr('fill', '#111')
        .text(name);
    }
    if (r === rows.length - 1) {
      g.selectAll('text.xt').data(xTicks.filter(t => c === 0 || t > 2010)).enter().append('text')
        .attr('transform', d => `translate(${x(d) + 16},${panelH + 12}) rotate(-45)`)
        .attr('text-anchor', 'end')
        .attr('font-size', 25).attr('fill', '#3a3a3a')
        .text(d => d);
    }
  });
});

// ---- legend (column-major, 4 rows) ----
const legend = svg.append('g');
const legendRows = 4;
let lx = 40;
for (let c = 0; c * legendRows < sectors.length; c++) {
  const items = sectors.slice(c * legendRows, c * legendRows + legendRows);
  let maxW = 0;
  items.forEach((name, i) => {
    const cy = 1387 + i * 33.5;
    legend.append('rect')
      .attr('x', lx).attr('y', cy - 12).attr('width', 56).attr('height', 24)
      .attr('fill', color(name));
    const t = legend.append('text')
      .attr('x', lx + 65).attr('y', cy).attr('dy', '0.35em')
      .attr('font-size', 22).attr('fill', '#111')
      .text(name);
    maxW = Math.max(maxW, t.node().getComputedTextLength());
  });
  lx += 65 + maxW + 10;
}
</script>
</body>
</html>
